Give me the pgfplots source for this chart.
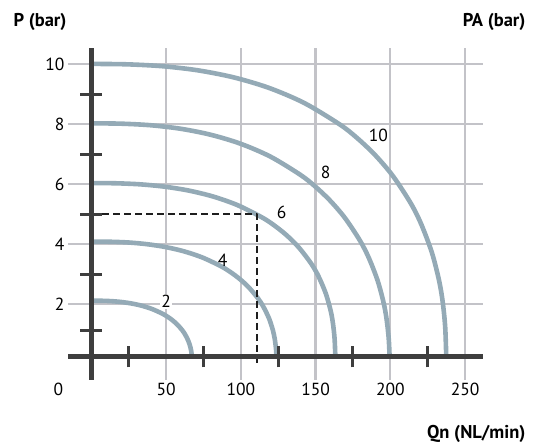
\documentclass[border=0pt]{standalone}
\usepackage{pgfplots}
\pgfplotsset{compat=1.18}
\usepackage{fontspec}
\setmainfont{PT Sans}
\definecolor{curvec}{RGB}{148,170,182}
\definecolor{gridc}{RGB}{195,195,200}
\definecolor{axisc}{RGB}{62,62,62}
\definecolor{dashc}{RGB}{30,30,30}
\begin{document}
\begin{tikzpicture}
\useasboundingbox (0pt,0pt) rectangle (534pt,446pt);
\begin{axis}[
  at={(68pt,66pt)}, anchor=south west,
  scale only axis, width=415pt, height=332pt,
  xmin=-15.6, xmax=262, ymin=-0.533, ymax=10.53,
  axis line style={draw=none},
  xtick={50,100,...,250}, ytick={2,4,...,10},
  major tick length=0pt,
  grid=major, major grid style={gridc, line width=2.2pt},
  tick label style={font=\fontsize{17.5}{20}\selectfont},
  /pgf/number format/assume math mode=true,
  clip=false,
  every axis plot/.append style={line join=round},
]
% curves (P = 10, 8, 6, 4, 2 bar)
\addplot[curvec, line width=4.6pt, smooth] coordinates {(0,10) (23.74,9.986) (47.48,9.923) (71.22,9.786) (94.96,9.554) (118.7,9.203) (142.44,8.697) (166.18,7.983) (178.05,7.519) (189.92,6.958) (201.79,6.261) (213.66,5.357) (220.78,4.647) (227.90,3.698) (232.65,2.773) (235.03,2.071) (236.69,1.245) (237.4,0.27)};
\addplot[curvec, line width=4.6pt, smooth] coordinates {(0,8.02) (19.95,8.008) (39.9,7.955) (59.85,7.838) (79.8,7.640) (99.75,7.341) (119.7,6.913) (139.65,6.310) (149.63,5.921) (159.6,5.451) (169.58,4.872) (179.55,4.125) (185.54,3.545) (191.52,2.778) (195.51,2.042) (197.51,1.494) (198.9,0.866) (199.5,0.27)};
\addplot[curvec, line width=4.6pt, smooth] coordinates {(0,6.03) (16.32,6.022) (32.64,5.987) (48.96,5.909) (65.28,5.778) (81.6,5.579) (97.92,5.291) (114.24,4.883) (122.4,4.617) (130.56,4.293) (138.72,3.888) (146.88,3.359) (151.78,2.940) (156.67,2.372) (159.94,1.809) (161.57,1.374) (162.71,0.850) (163.2,0.27)};
\addplot[curvec, line width=4.6pt, smooth] coordinates {(0,4.08) (12.39,4.074) (24.78,4.049) (37.17,3.993) (49.56,3.898) (61.95,3.755) (74.34,3.548) (86.73,3.257) (92.93,3.068) (99.12,2.839) (105.32,2.554) (111.51,2.186) (115.23,1.896) (118.94,1.509) (121.42,1.131) (122.66,0.845) (123.53,0.508) (123.8,0.27)};
\addplot[curvec, line width=4.6pt, smooth] coordinates {(0,2.11) (6.75,2.107) (13.5,2.094) (20.25,2.065) (27.0,2.016) (33.75,1.942) (40.5,1.835) (47.25,1.684) (50.63,1.587) (54.0,1.468) (57.38,1.321) (60.75,1.130) (62.78,0.981) (64.8,0.780) (66.15,0.585) (66.83,0.437) (67.2,0.27)};
% dashed reading line
\addplot[dashc, line width=2pt, dash pattern=on 7pt off 4pt] coordinates {(0,5) (111.1,5) (111.1,-0.07)};
% thick axes
\addplot[axisc, line width=5.5pt] coordinates {(-15.6,0.25) (262,0.25)};
\addplot[axisc, line width=5.5pt] coordinates {(0,-0.533) (0,10.53)};
% axis cross ticks
\addplot[axisc, line width=3pt, unbounded coords=jump] coordinates {(25,-0.11) (25,0.61) (25,nan) (75,-0.11) (75,0.61) (75,nan) (125,-0.11) (125,0.61) (125,nan) (175,-0.11) (175,0.61) (175,nan) (225,-0.11) (225,0.61)};
\addplot[axisc, line width=3pt, unbounded coords=jump] coordinates {(-7.3,8.97) (7.3,8.97) (0,nan) (-7.3,6.99) (7.3,6.99) (0,nan) (-7.3,4.99) (7.3,4.99) (0,nan) (-7.3,2.99) (7.3,2.99) (0,nan) (-7.3,1.13) (7.3,1.13)};
% curve labels
\node[fill=white, inner sep=1.5pt, font=\fontsize{17.5}{20}\selectfont] at (axis cs:50,2.08) {2};
\node[inner sep=1.5pt, font=\fontsize{17.5}{20}\selectfont] at (axis cs:87.9,3.47) {4};
\node[inner sep=1.5pt, font=\fontsize{17.5}{20}\selectfont] at (axis cs:127.3,5.06) {6};
\node[inner sep=1.5pt, font=\fontsize{17.5}{20}\selectfont] at (axis cs:156.8,6.37) {8};
\node[inner sep=1.5pt, font=\fontsize{17.5}{20}\selectfont] at (axis cs:192,7.63) {10};
\node[anchor=north, font=\fontsize{17.5}{20}\selectfont] at (axis cs:-22.1,-0.533) {0};
\end{axis}
\node[anchor=base west, font=\bfseries\fontsize{18.5}{22}\selectfont] at (10pt,419pt) {P (bar)};
\node[anchor=base east, font=\bfseries\fontsize{18.5}{22}\selectfont] at (529pt,419pt) {PA (bar)};
\node[anchor=base east, font=\bfseries\fontsize{18.5}{22}\selectfont] at (529pt,7.5pt) {Qn (NL/min)};
\end{tikzpicture}
\end{document}
